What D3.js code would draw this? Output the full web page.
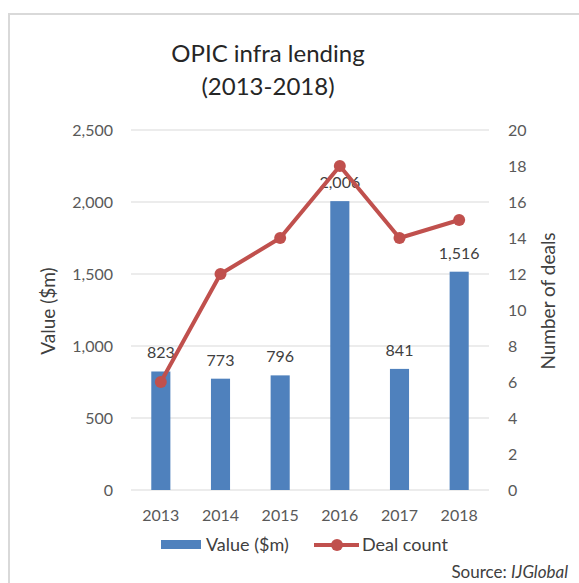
<!DOCTYPE html>
<html>
<head>
<meta charset="utf-8">
<script src="https://cdn.jsdelivr.net/npm/d3@7"></script>
<style>
  body { margin: 0; background: #fff; }
  text { font-family: Lato, "Open Sans", sans-serif; }
</style>
</head>
<body>
<div id="chart"></div>
<script>
// Data
var years = ["2013", "2014", "2015", "2016", "2017", "2018"];
var values = [823, 773, 796, 2006, 841, 1516];
var deals = [6, 12, 14, 18, 14, 15];
var leftTicks = [0, 500, 1000, 1500, 2000, 2500];
var rightTicks = [0, 2, 4, 6, 8, 10, 12, 14, 16, 18, 20];

var svgWidth = 579;
var svgHeight = 583;

var chartMargin = { top: 130, right: 90, bottom: 93, left: 131 };
var width = svgWidth - chartMargin.left - chartMargin.right;   // 358
var height = svgHeight - chartMargin.top - chartMargin.bottom; // 360

var svg = d3.select("#chart")
  .append("svg")
    .attr("width", svgWidth)
    .attr("height", svgHeight);

// outer frame (runs off right and bottom)
svg.append("rect")
  .attr("x", 9).attr("y", 14)
  .attr("width", 600).attr("height", 600)
  .attr("fill", "none")
  .attr("stroke", "#d9d9d9")
  .attr("stroke-width", 2);

// title
svg.append("text")
  .attr("x", 268).attr("y", 62)
  .attr("text-anchor", "middle")
  .style("font-size", "24px")
  .attr("fill", "#262626")
  .text("OPIC infra lending");
svg.append("text")
  .attr("x", 268).attr("y", 95)
  .attr("text-anchor", "middle")
  .style("font-size", "24px")
  .attr("fill", "#262626")
  .text("(2013-2018)");

var chartGroup = svg.append("g")
  .attr("transform", `translate(${chartMargin.left}, ${chartMargin.top})`);

var xScale = d3.scaleBand()
  .domain(years)
  .range([0, width])
  .paddingInner(0.68)
  .paddingOuter(0.34);

var yLeft = d3.scaleLinear().domain([0, 2500]).range([height, 0]);
var yRight = d3.scaleLinear().domain([0, 20]).range([height, 0]);

// gridlines
chartGroup.selectAll("line.grid")
  .data(leftTicks)
  .enter()
  .append("line")
  .attr("class", "grid")
  .attr("x1", 0).attr("x2", width)
  .attr("y1", d => yLeft(d)).attr("y2", d => yLeft(d))
  .attr("stroke", "#d9d9d9")
  .attr("stroke-width", 1);

// axes (labels only)
var leftAxis = d3.axisLeft(yLeft).tickValues(leftTicks).tickSize(0).tickPadding(18)
  .tickFormat(d3.format(","));
var rightAxis = d3.axisRight(yRight).tickValues(rightTicks).tickSize(0).tickPadding(19);
var bottomAxis = d3.axisBottom(xScale).tickSize(0).tickPadding(20);

function styleAxis(g) {
  g.select(".domain").remove();
  g.selectAll("text")
    .style("font-size", "16px")
    .style("font-family", "Lato, 'Open Sans', sans-serif")
    .attr("fill", "#595959");
}

chartGroup.append("g").call(leftAxis).call(styleAxis);
chartGroup.append("g").attr("transform", `translate(${width}, 0)`).call(rightAxis).call(styleAxis);
chartGroup.append("g").attr("transform", `translate(0, ${height})`).call(bottomAxis).call(styleAxis);

// bars
chartGroup.selectAll("rect.bar")
  .data(values)
  .enter()
  .append("rect")
  .attr("class", "bar")
  .attr("x", (d, i) => xScale(years[i]))
  .attr("y", d => yLeft(d))
  .attr("width", xScale.bandwidth())
  .attr("height", d => height - yLeft(d))
  .attr("fill", "#4f81bd");

// value labels
chartGroup.selectAll("text.vlabel")
  .data(values)
  .enter()
  .append("text")
  .attr("class", "vlabel")
  .attr("x", (d, i) => xScale(years[i]) + xScale.bandwidth() / 2)
  .attr("y", d => yLeft(d) - 13)
  .attr("text-anchor", "middle")
  .style("font-size", "16px")
  .attr("fill", "#404040")
  .text(d => d3.format(",")(d));

// deal count line
var line = d3.line()
  .x((d, i) => xScale(years[i]) + xScale.bandwidth() / 2)
  .y(d => yRight(d));

chartGroup.append("path")
  .datum(deals)
  .attr("d", line)
  .attr("fill", "none")
  .attr("stroke", "#c0504d")
  .attr("stroke-width", 4)
  .attr("stroke-linejoin", "round");

chartGroup.selectAll("circle.dot")
  .data(deals)
  .enter()
  .append("circle")
  .attr("class", "dot")
  .attr("cx", (d, i) => xScale(years[i]) + xScale.bandwidth() / 2)
  .attr("cy", d => yRight(d))
  .attr("r", 6)
  .attr("fill", "#c0504d");

// axis titles
svg.append("text")
  .attr("transform", "translate(55, 311) rotate(-90)")
  .attr("text-anchor", "middle")
  .style("font-size", "19px")
  .attr("fill", "#404040")
  .text("Value ($m)");

svg.append("text")
  .attr("transform", "translate(555, 301) rotate(-90)")
  .attr("text-anchor", "middle")
  .style("font-size", "19px")
  .attr("fill", "#404040")
  .text("Number of deals");

// legend
var legend = svg.append("g");
legend.append("rect")
  .attr("x", 161).attr("y", 540)
  .attr("width", 40).attr("height", 9)
  .attr("fill", "#4f81bd");
legend.append("text")
  .attr("x", 206).attr("y", 551)
  .style("font-size", "18px")
  .attr("fill", "#404040")
  .text("Value ($m)");
legend.append("line")
  .attr("x1", 314).attr("x2", 359)
  .attr("y1", 545).attr("y2", 545)
  .attr("stroke", "#c0504d")
  .attr("stroke-width", 4);
legend.append("circle")
  .attr("cx", 337).attr("cy", 545)
  .attr("r", 6)
  .attr("fill", "#c0504d");
legend.append("text")
  .attr("x", 362).attr("y", 551)
  .style("font-size", "18px")
  .attr("fill", "#404040")
  .text("Deal count");

// source
var src = svg.append("text")
  .attr("x", 568).attr("y", 578)
  .attr("text-anchor", "end")
  .style("font-size", "17px")
  .attr("fill", "#404040");
src.append("tspan").text("Source: ");
src.append("tspan").style("font-style", "italic").text("IJGlobal");
</script>
</body>
</html>
